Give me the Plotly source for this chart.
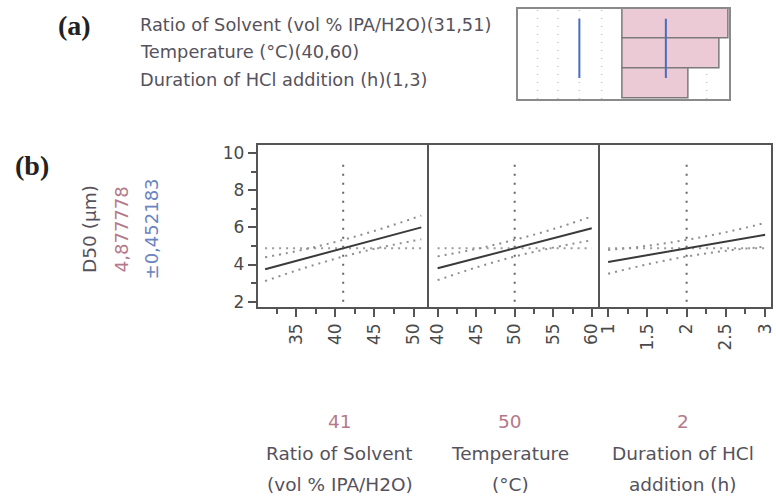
import plotly.graph_objects as go

# ---------------- data ----------------
factor_titles = ["Ratio of Solvent", "Temperature", "Duration of HCl"]
factor_units = ["(vol % IPA/H2O)", "(°C)", "addition (h)"]
current_vals = ["41", "50", "2"]
current_x = [41, 50, 2]
summary_lines = [
    "Ratio of Solvent (vol % IPA/H2O)(31,51)",
    "Temperature (°C)(40,60)",
    "Duration of HCl addition (h)(1,3)",
]
response_name = "D50 (µm)"
response_value = "4,877778"
response_ci = "±0,452183"
pred_mean = 4.877778

x_pts = [
    [31, 36, 41, 46, 51],
    [40, 45, 50, 55, 60],
    [1, 1.5, 2, 2.5, 3],
]
pred = [
    [3.75, 4.31, 4.878, 5.44, 6.00],
    [3.80, 4.34, 4.878, 5.41, 5.95],
    [4.14, 4.51, 4.878, 5.24, 5.60],
]
upper = [
    [4.39, 4.81, 5.33, 5.94, 6.64],
    [4.44, 4.84, 5.33, 5.91, 6.59],
    [4.78, 5.01, 5.33, 5.74, 6.24],
]
lower = [
    [3.11, 3.81, 4.43, 4.94, 5.36],
    [3.16, 3.84, 4.43, 4.91, 5.31],
    [3.50, 4.01, 4.43, 4.74, 4.96],
]
x_ranges = [[30.05, 52.0], [38.9, 61.1], [0.9, 3.075]]
x_tick0 = [35, 40, 1]
x_dtick = [5, 5, 0.5]
x_minor = [2.5, 2.5, 0.25]
y_range = [1.73, 10.44]

# contour-profiler strip (a)
strip_rows = [2, 1, 0]
shade_start = [0.495, 0.495, 0.495]
shade_end = [1.0, 0.953, 0.808]
blue_marks = [0.292, 0.701]
blue_span = [0.195, 2.16]
grid_marks = [0.094, 0.191, 0.292, 0.397]
grid_marks_row3 = [0.894]

# ---------------- style ----------------
W, H = 776, 500
TEXT = "#56525c"
ROSE = "#b47a8a"
BLUE = "#6c84c0"
FRAME = "#555555"
FONT = "DejaVu Sans"


def px(x):
    return x / W


def py(y):
    return 1 - y / H


fig = go.Figure()

panel_x = [(257, 430), (430, 602.7), (602.7, 775)]
y_dom = [py(309), py(145)]

for i in range(3):
    xa = "x" if i == 0 else f"x{i+1}"
    ya = "y" if i == 0 else f"y{i+1}"
    lo, hi = x_pts[i][0], x_pts[i][-1]
    fig.add_trace(go.Scatter(x=[lo, hi], y=[pred_mean, pred_mean], mode="lines",
                             line=dict(color="#9a9a9a", width=2, dash="2px,5px"),
                             xaxis=xa, yaxis=ya, hoverinfo="skip", showlegend=False))
    fig.add_trace(go.Scatter(x=x_pts[i], y=upper[i], mode="lines",
                             line=dict(color="#8e8e8e", width=2, dash="2px,5px", shape="spline"),
                             xaxis=xa, yaxis=ya, showlegend=False))
    fig.add_trace(go.Scatter(x=x_pts[i], y=lower[i], mode="lines",
                             line=dict(color="#8e8e8e", width=2, dash="2px,5px", shape="spline"),
                             xaxis=xa, yaxis=ya, showlegend=False))
    fig.add_trace(go.Scatter(x=x_pts[i], y=pred[i], mode="lines",
                             line=dict(color="#3a3a3a", width=2),
                             xaxis=xa, yaxis=ya, showlegend=False))
    fig.add_shape(type="line", xref=xa, yref=f"{ya} domain",
                  x0=current_x[i], x1=current_x[i], y0=0.03, y1=0.90,
                  line=dict(color="#666666", width=2, dash="2px,7px"))

    xkey = "xaxis" if i == 0 else f"xaxis{i+1}"
    ykey = "yaxis" if i == 0 else f"yaxis{i+1}"
    fig.layout[xkey] = dict(
        domain=[px(panel_x[i][0]), px(panel_x[i][1])], range=x_ranges[i],
        anchor=ya, tickmode="linear", tick0=x_tick0[i], dtick=x_dtick[i],
        ticks="outside", ticklen=8, tickwidth=2, tickcolor=FRAME,
        minor=dict(ticks="outside", ticklen=5, tickwidth=2, tickcolor=FRAME,
                   dtick=x_minor[i], tick0=0),
        tickangle=-90, tickfont=dict(family=FONT, size=17, color="#4a4a4a"),
        ticklabeloverflow="allow",
        showline=True, linecolor=FRAME, linewidth=2, mirror=True,
        showgrid=False, zeroline=False, fixedrange=True,
    )
    ydict = dict(domain=y_dom, range=y_range, anchor=xa, showline=True,
                 linecolor=FRAME, linewidth=2, mirror=(i == 2), showgrid=False,
                 zeroline=False, fixedrange=True)
    if i == 0:
        ydict.update(tickmode="linear", tick0=2, dtick=2, ticks="outside",
                     ticklen=8, tickwidth=2, tickcolor=FRAME,
                     minor=dict(ticks="outside", ticklen=5, tickwidth=2,
                                tickcolor=FRAME, dtick=1, tick0=0),
                     tickfont=dict(family=FONT, size=17, color="#4a4a4a"))
    else:
        ydict.update(showticklabels=False, ticks="", matches="y")
    fig.layout[ykey] = ydict

# ---------------- strip (a) ----------------
fig.add_trace(go.Bar(orientation="h", y=strip_rows,
                     x=[e - s for s, e in zip(shade_start, shade_end)], base=shade_start,
                     width=1, marker=dict(color="#ebc9d5", line=dict(color="#7a7a7a", width=1.5)),
                     xaxis="x4", yaxis="y4", showlegend=False, hoverinfo="skip"))
for g in grid_marks:
    fig.add_trace(go.Scatter(x=[g, g], y=[-0.5, 2.5], mode="lines",
                             line=dict(color="#c4c4c4", width=1.5, dash="1px,7px"),
                             xaxis="x4", yaxis="y4", showlegend=False, hoverinfo="skip"))
for g in grid_marks_row3:
    fig.add_trace(go.Scatter(x=[g, g], y=[-0.5, 0.5], mode="lines",
                             line=dict(color="#c4c4c4", width=1.5, dash="1px,7px"),
                             xaxis="x4", yaxis="y4", showlegend=False, hoverinfo="skip"))
for b in blue_marks:
    fig.add_trace(go.Scatter(x=[b, b], y=blue_span, mode="lines",
                             line=dict(color="#4a6cc0", width=2),
                             xaxis="x4", yaxis="y4", showlegend=False, hoverinfo="skip"))

fig.layout["xaxis4"] = dict(domain=[px(519.3), px(732.7)], range=[0, 1], anchor="y4",
                            showline=True, mirror=True, linecolor="#8a8a8a", linewidth=2,
                            showticklabels=False, ticks="", showgrid=False, zeroline=False,
                            fixedrange=True)
fig.layout["yaxis4"] = dict(domain=[py(98.3), py(6.7)], range=[-0.5, 2.5], anchor="x4",
                            showline=True, mirror=True, linecolor="#8a8a8a", linewidth=2,
                            showticklabels=False, ticks="", showgrid=False, zeroline=False,
                            fixedrange=True)

# ---------------- annotations ----------------
ann = []


def add_text(x, y, text, size, color, family=FONT, xanchor="center", angle=0):
    ann.append(dict(x=px(x), y=py(y), xref="paper", yref="paper", text=text,
                    showarrow=False, textangle=angle,
                    font=dict(family=family, size=size, color=color),
                    xanchor=xanchor, yanchor="middle"))


add_text(72, 24, "<b>(a)</b>", 28, "#222222", family="Liberation Serif")
add_text(29, 166, "<b>(b)</b>", 28, "#222222", family="Liberation Serif")
for t, yy in zip(summary_lines, [23, 50.5, 78.5]):
    add_text(136, yy, t, 17.8, TEXT, xanchor="left")
for t, xx, col in [(response_name, 88, TEXT), (response_value, 119.5, ROSE), (response_ci, 150, BLUE)]:
    add_text(xx, 230, t, 18.5 if t == response_name else 18, col, angle=-90)
centers = [340, 512, 686]
for i in range(3):
    add_text(centers[i], 425, current_vals[i], 18.5, ROSE)
    add_text(centers[i], 458, factor_titles[i], 18.5, TEXT)
    add_text(centers[i], 489, factor_units[i], 18.5, TEXT)

fig.update_layout(
    width=W, height=H, margin=dict(l=0, r=0, t=0, b=0),
    paper_bgcolor="white", plot_bgcolor="white",
    annotations=ann, showlegend=False, bargap=0,
    font=dict(family=FONT),
)

fig.write_html("out.html", config={"displayModeBar": False})
